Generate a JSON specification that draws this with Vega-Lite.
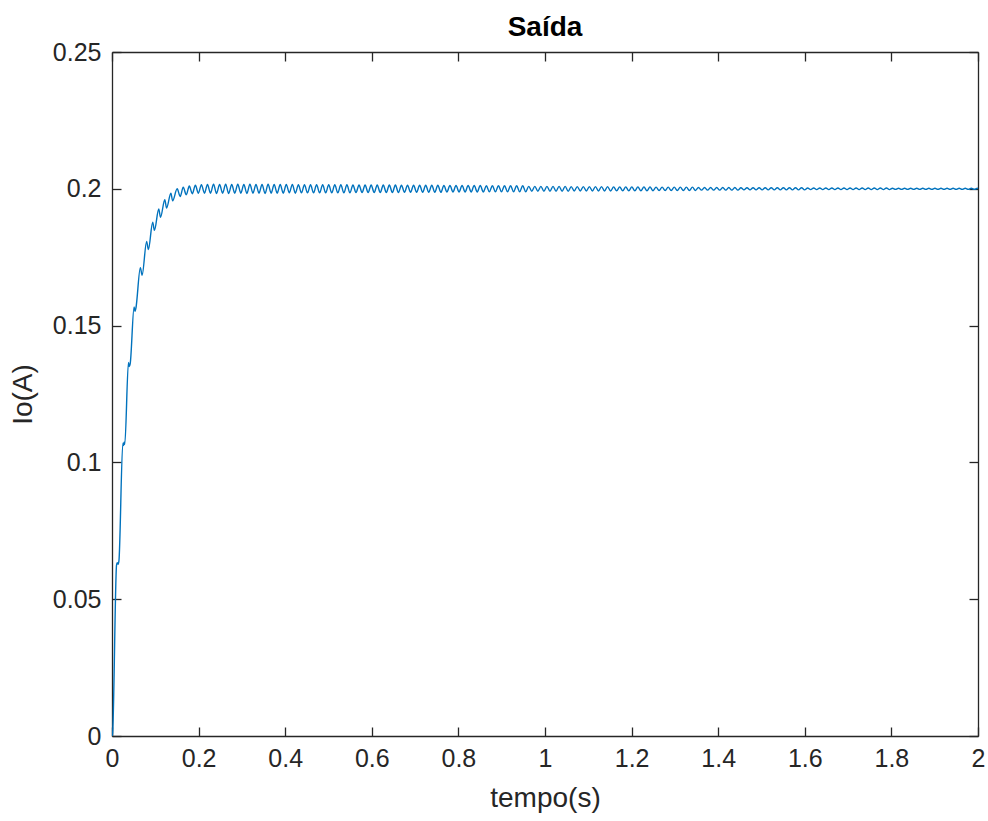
{
"$schema": "https://vega.github.io/schema/vega-lite/v6.json",
"width": 866, "height": 684,
"autosize": {"type": "none"},
"padding": {"left": 112, "top": 52, "right": 10, "bottom": 85},
"background": "white",
"title": {"text": "Saída", "fontSize": 28, "fontWeight": "bold", "font": "Liberation Sans", "color": "#000000", "offset": -2, "anchor": "middle"},
"config": {"view": {"stroke": null}, "font": "Liberation Sans",
  "axis": {"grid": false, "domainColor": "#262626", "domainWidth": 1.3, "tickColor": "#262626", "tickWidth": 1.3, "tickSize": -9, "labelFlush": false,
    "labelColor": "#262626", "labelFont": "Liberation Sans", "labelFontSize": 25, "titleColor": "#262626", "titleFont": "Liberation Sans", "titleFontSize": 28, "titleFontWeight": "normal"}},
"data": {"values": [
{"t":0,"i":0},{"t":0.0013,"i":0.0008},{"t":0.0105,"i":0.0625},{"t":0.012,"i":0.0633},{"t":0.014,"i":0.0628},{"t":0.016,"i":0.064},
{"t":0.025,"i":0.107},{"t":0.0265,"i":0.1062},{"t":0.028,"i":0.1074},{"t":0.0295,"i":0.1066},
{"t":0.038,"i":0.1365},{"t":0.04,"i":0.135},{"t":0.042,"i":0.136},
{"t":0.051,"i":0.1568},{"t":0.053,"i":0.1552},{"t":0.055,"i":0.1562},
{"t":0.0655,"i":0.1712},{"t":0.0695,"i":0.1684},{"t":0.08,"i":0.1808},{"t":0.084,"i":0.1778},
{"t":0.094,"i":0.1878},{"t":0.098,"i":0.1848},{"t":0.108,"i":0.1926},{"t":0.112,"i":0.1896},
{"t":0.122,"i":0.196},{"t":0.126,"i":0.193},{"t":0.136,"i":0.1984},{"t":0.14,"i":0.1956},
{"t":0.1505,"i":0.2},{"t":0.1575,"i":0.1972},{"t":0.1645,"i":0.2006},{"t":0.1715,"i":0.1978},
{"t":0.1785,"i":0.201},{"t":0.1855,"i":0.1982},{"t":0.1925,"i":0.2013},{"t":0.1995,"i":0.1984},
{"t":0.2065,"i":0.2015},{"t":0.2135,"i":0.1984},{"t":0.2205,"i":0.2016},{"t":0.2275,"i":0.1984},
{"t":0.2345,"i":0.2017},{"t":0.2415,"i":0.1983},{"t":0.2485,"i":0.2016},{"t":0.2555,"i":0.1984},
{"t":0.2625,"i":0.2017},{"t":0.2695,"i":0.1983},{"t":0.2765,"i":0.2016},{"t":0.2835,"i":0.1984},
{"t":0.2905,"i":0.2017},{"t":0.2975,"i":0.1984},{"t":0.3045,"i":0.2016},{"t":0.3115,"i":0.1983},
{"t":0.3185,"i":0.2017},{"t":0.3255,"i":0.1984},{"t":0.3325,"i":0.2016},{"t":0.3395,"i":0.1984},
{"t":0.3465,"i":0.2016},{"t":0.3535,"i":0.1983},{"t":0.3605,"i":0.2017},{"t":0.3675,"i":0.1984},
{"t":0.3745,"i":0.2016},{"t":0.3815,"i":0.1984},{"t":0.3885,"i":0.2016},{"t":0.3955,"i":0.1984},
{"t":0.4025,"i":0.2016},{"t":0.4095,"i":0.1985},{"t":0.4165,"i":0.2016},{"t":0.4235,"i":0.1984},
{"t":0.4305,"i":0.2015},{"t":0.4375,"i":0.1985},
{"t":0.4445,"i":0.2015},{"t":0.4515,"i":0.1985},{"t":0.4585,"i":0.2015},{"t":0.4655,"i":0.1985},
{"t":0.4725,"i":0.2015},{"t":0.4795,"i":0.1985},{"t":0.4865,"i":0.2015},{"t":0.4935,"i":0.1985},
{"t":0.5005,"i":0.2015},{"t":0.5075,"i":0.1985},{"t":0.5145,"i":0.2015},{"t":0.5215,"i":0.1985},
{"t":0.5285,"i":0.2015},{"t":0.5355,"i":0.1985},{"t":0.5425,"i":0.2015},{"t":0.5495,"i":0.1985},
{"t":0.5565,"i":0.2014},{"t":0.5635,"i":0.1986},{"t":0.5705,"i":0.2014},{"t":0.5775,"i":0.1986},
{"t":0.5845,"i":0.2014},{"t":0.5915,"i":0.1986},{"t":0.5985,"i":0.2014},{"t":0.6055,"i":0.1986},
{"t":0.6125,"i":0.2014},{"t":0.6195,"i":0.1986},{"t":0.6265,"i":0.2014},{"t":0.6335,"i":0.1986},
{"t":0.6405,"i":0.2014},{"t":0.6475,"i":0.1986},{"t":0.6545,"i":0.2014},{"t":0.6615,"i":0.1986},
{"t":0.6685,"i":0.2013},{"t":0.6755,"i":0.1987},{"t":0.6825,"i":0.2013},{"t":0.6895,"i":0.1987},
{"t":0.6965,"i":0.2013},{"t":0.7035,"i":0.1987},{"t":0.7105,"i":0.2013},{"t":0.7175,"i":0.1987},
{"t":0.7245,"i":0.2013},{"t":0.7315,"i":0.1987},{"t":0.7385,"i":0.2013},{"t":0.7455,"i":0.1987},
{"t":0.7525,"i":0.2013},{"t":0.7595,"i":0.1987},
{"t":0.7665,"i":0.2012},{"t":0.7735,"i":0.1988},{"t":0.7805,"i":0.2012},{"t":0.7875,"i":0.1988},
{"t":0.7945,"i":0.2012},{"t":0.8015,"i":0.1988},{"t":0.8085,"i":0.2012},{"t":0.8155,"i":0.1988},
{"t":0.8225,"i":0.2012},{"t":0.8295,"i":0.1988},{"t":0.8365,"i":0.2012},{"t":0.8435,"i":0.1988},
{"t":0.8505,"i":0.2012},{"t":0.8575,"i":0.1988},
{"t":0.8645,"i":0.2011},{"t":0.8715,"i":0.1989},{"t":0.8785,"i":0.2011},{"t":0.8855,"i":0.1989},
{"t":0.8925,"i":0.2011},{"t":0.8995,"i":0.1989},{"t":0.9065,"i":0.2011},{"t":0.9135,"i":0.1989},
{"t":0.9205,"i":0.2011},{"t":0.9275,"i":0.1989},{"t":0.9345,"i":0.2011},{"t":0.9415,"i":0.1989},
{"t":0.9485,"i":0.2011},{"t":0.9555,"i":0.1989},
{"t":0.9625,"i":0.2009},{"t":0.9695,"i":0.1991},{"t":0.9765,"i":0.2009},{"t":0.9835,"i":0.1991},
{"t":0.9905,"i":0.2009},{"t":0.9975,"i":0.1991},{"t":1.0045,"i":0.2009},{"t":1.0115,"i":0.1991},
{"t":1.0185,"i":0.2009},{"t":1.0255,"i":0.1991},{"t":1.0325,"i":0.2009},{"t":1.0395,"i":0.1991},
{"t":1.0465,"i":0.2009},{"t":1.0535,"i":0.1991},
{"t":1.0605,"i":0.2008},{"t":1.0675,"i":0.1992},{"t":1.0745,"i":0.2008},{"t":1.0815,"i":0.1992},
{"t":1.0885,"i":0.2008},{"t":1.0955,"i":0.1992},{"t":1.1025,"i":0.2008},{"t":1.1095,"i":0.1992},
{"t":1.1165,"i":0.2008},{"t":1.1235,"i":0.1992},{"t":1.1305,"i":0.2008},{"t":1.1375,"i":0.1992},
{"t":1.1445,"i":0.2008},{"t":1.1515,"i":0.1992},
{"t":1.1585,"i":0.2007},{"t":1.1655,"i":0.1993},{"t":1.1725,"i":0.2007},{"t":1.1795,"i":0.1993},
{"t":1.1865,"i":0.2007},{"t":1.1935,"i":0.1993},{"t":1.2005,"i":0.2007},{"t":1.2075,"i":0.1993},
{"t":1.2145,"i":0.2007},{"t":1.2215,"i":0.1993},{"t":1.2285,"i":0.2007},{"t":1.2355,"i":0.1993},
{"t":1.2425,"i":0.2007},{"t":1.2495,"i":0.1993},
{"t":1.2565,"i":0.2006},{"t":1.2635,"i":0.1994},{"t":1.2705,"i":0.2006},{"t":1.2775,"i":0.1994},
{"t":1.2845,"i":0.2006},{"t":1.2915,"i":0.1994},{"t":1.2985,"i":0.2006},{"t":1.3055,"i":0.1994},
{"t":1.3125,"i":0.2006},{"t":1.3195,"i":0.1994},{"t":1.3265,"i":0.2006},{"t":1.3335,"i":0.1994},
{"t":1.3405,"i":0.2006},{"t":1.3475,"i":0.1994},
{"t":1.3545,"i":0.2005},{"t":1.3615,"i":0.1995},{"t":1.3685,"i":0.2005},{"t":1.3755,"i":0.1995},
{"t":1.3825,"i":0.2005},{"t":1.3895,"i":0.1995},{"t":1.3965,"i":0.2005},{"t":1.4035,"i":0.1995},
{"t":1.4105,"i":0.2005},{"t":1.4175,"i":0.1995},{"t":1.4245,"i":0.2005},{"t":1.4315,"i":0.1995},
{"t":1.4385,"i":0.2005},{"t":1.4455,"i":0.1995},
{"t":1.4525,"i":0.2004},{"t":1.4595,"i":0.1996},{"t":1.4665,"i":0.2004},{"t":1.4735,"i":0.1996},
{"t":1.4805,"i":0.2004},{"t":1.4875,"i":0.1996},{"t":1.4945,"i":0.2004},{"t":1.5015,"i":0.1996},
{"t":1.5085,"i":0.2004},{"t":1.5155,"i":0.1996},{"t":1.5225,"i":0.2004},{"t":1.5295,"i":0.1996},
{"t":1.5365,"i":0.2004},{"t":1.5435,"i":0.1996},{"t":1.5505,"i":0.2004},{"t":1.5575,"i":0.1996},
{"t":1.5645,"i":0.2004},{"t":1.5715,"i":0.1996},{"t":1.5785,"i":0.2004},{"t":1.5855,"i":0.1996},
{"t":1.5925,"i":0.2004},{"t":1.5995,"i":0.1996},
{"t":1.6065,"i":0.2003},{"t":1.6135,"i":0.1997},{"t":1.6205,"i":0.2003},{"t":1.6275,"i":0.1997},
{"t":1.6345,"i":0.2003},{"t":1.6415,"i":0.1997},{"t":1.6485,"i":0.2003},{"t":1.6555,"i":0.1997},
{"t":1.6625,"i":0.2003},{"t":1.6695,"i":0.1997},{"t":1.6765,"i":0.2003},{"t":1.6835,"i":0.1997},
{"t":1.6905,"i":0.2003},{"t":1.6975,"i":0.1997},{"t":1.7045,"i":0.2003},{"t":1.7115,"i":0.1997},
{"t":1.7185,"i":0.2003},{"t":1.7255,"i":0.1997},{"t":1.7325,"i":0.2003},{"t":1.7395,"i":0.1997},
{"t":1.7465,"i":0.2003},{"t":1.7535,"i":0.1997},{"t":1.7605,"i":0.2003},{"t":1.7675,"i":0.1997},
{"t":1.7745,"i":0.2003},{"t":1.7815,"i":0.1997},{"t":1.7885,"i":0.2003},{"t":1.7955,"i":0.1997},
{"t":1.8025,"i":0.2002},{"t":1.8095,"i":0.1998},{"t":1.8165,"i":0.2002},{"t":1.8235,"i":0.1998},
{"t":1.8305,"i":0.2002},{"t":1.8375,"i":0.1998},{"t":1.8445,"i":0.2002},{"t":1.8515,"i":0.1998},
{"t":1.8585,"i":0.2002},{"t":1.8655,"i":0.1998},{"t":1.8725,"i":0.2002},{"t":1.8795,"i":0.1998},
{"t":1.8865,"i":0.2002},{"t":1.8935,"i":0.1998},{"t":1.9005,"i":0.2002},{"t":1.9075,"i":0.1998},
{"t":1.9145,"i":0.2002},{"t":1.9215,"i":0.1998},{"t":1.9285,"i":0.2002},{"t":1.9355,"i":0.1998},
{"t":1.9425,"i":0.2002},{"t":1.9495,"i":0.1998},{"t":1.9565,"i":0.2002},{"t":1.9635,"i":0.1998},
{"t":1.9705,"i":0.2002},{"t":1.9775,"i":0.1998},{"t":1.9845,"i":0.2002},{"t":1.9915,"i":0.1998},
{"t":1.9985,"i":0.2002},{"t":2,"i":0.2}
]},
"layer": [
 {"mark": {"type": "line", "color": "#0072BD", "strokeWidth": 1.4, "interpolate": "monotone", "clip": true},
  "encoding": {
   "x": {"field": "t", "type": "quantitative", "scale": {"domain": [0, 2], "nice": false, "zero": false},
     "axis": {"orient": "bottom", "values": [0,0.2,0.4,0.6,0.8,1,1.2,1.4,1.6,1.8,2], "format": "~g", "labelPadding": 19, "title": "tempo(s)", "titleX": 433, "titleY": 70, "titleBaseline": "alphabetic", "titleAnchor": "middle"}},
   "y": {"field": "i", "type": "quantitative", "scale": {"domain": [0, 0.25], "nice": false, "zero": false},
     "axis": {"orient": "left", "values": [0,0.05,0.1,0.15,0.2,0.25], "format": "~g", "labelPadding": 20, "title": "Io(A)", "titleAngle": -90, "titleX": -89, "titleY": 342, "titleAlign": "center", "titleBaseline": "middle"}}
  }},
 {"mark": {"type": "point", "opacity": 0},
  "encoding": {
   "x": {"field": "t", "type": "quantitative", "scale": {"domain": [0, 2], "nice": false, "zero": false},
     "axis": {"orient": "top", "values": [0,0.2,0.4,0.6,0.8,1,1.2,1.4,1.6,1.8,2], "labels": false, "title": null}},
   "y": {"field": "i", "type": "quantitative", "scale": {"domain": [0, 0.25], "nice": false, "zero": false},
     "axis": {"orient": "right", "values": [0,0.05,0.1,0.15,0.2,0.25], "labels": false, "title": null}}
  }}
],
"resolve": {"axis": {"x": "independent", "y": "independent"}}
}
